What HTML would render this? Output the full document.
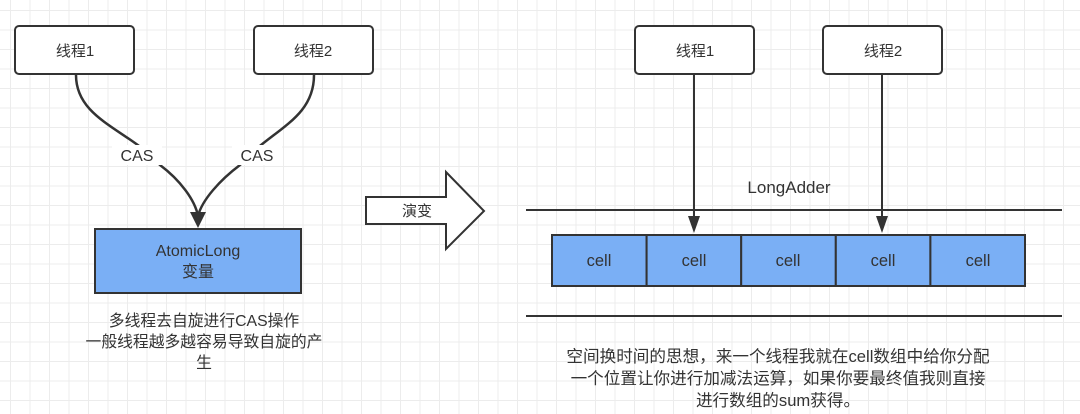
<!DOCTYPE html>
<html><head><meta charset="utf-8"><style>
body{margin:0;width:1080px;height:414px;overflow:hidden;background:#fff;
background-image:linear-gradient(#ececec 1px,transparent 1px),linear-gradient(90deg,#ececec 1px,transparent 1px);
background-size:19.5px 19.5px;background-position:10px 10px;font-family:"Liberation Sans","Noto Sans CJK SC",sans-serif;}
svg{position:absolute;left:0;top:0}
</style></head><body>
<svg width="1080" height="414" font-family="Liberation Sans, Noto Sans CJK SC, sans-serif" font-size="15" fill="#333">
<g stroke="#333" stroke-width="2" fill="#fff">
<rect x="15" y="26" width="119" height="48" rx="4"/>
<rect x="254" y="26" width="119" height="48" rx="4"/>
<rect x="635" y="26" width="119" height="48" rx="4"/>
<rect x="823" y="26" width="119" height="48" rx="4"/>
</g>
<g fill="none" stroke="#333" stroke-width="2.5">
<path d="M76,75 C76,120 130,130 160,165 C180,180 195,200 198,216"/>
<path d="M314,75 C314,120 270,130 240,165 C220,180 202,200 198,216"/>
</g>
<path d="M190,212 L206,212 L198,228 z" fill="#333"/>
<rect x="112" y="145" width="50" height="20" fill="#fff"/>
<rect x="232" y="145" width="50" height="20" fill="#fff"/>
<text x="137" y="161" text-anchor="middle" font-size="16">CAS</text>
<text x="257" y="161" text-anchor="middle" font-size="16">CAS</text>
<rect x="95" y="229" width="206" height="64" fill="#7aaff5" stroke="#333" stroke-width="2"/>
<text x="198" y="256" text-anchor="middle" font-size="16">AtomicLong</text>
<text x="198" y="277" text-anchor="middle" font-size="16">变量</text>
<text x="75" y="56" text-anchor="middle">线程1</text>
<text x="313" y="56" text-anchor="middle">线程2</text>
<text x="695" y="56" text-anchor="middle">线程1</text>
<text x="883" y="56" text-anchor="middle">线程2</text>
<path d="M366,197 L446,197 L446,172 L484,211 L446,249 L446,224 L366,224 z" fill="#fff" stroke="#333" stroke-width="2"/>
<text x="432" y="216" text-anchor="end">演变</text>
<g stroke="#333" stroke-width="2">
<line x1="526" y1="210" x2="1062" y2="210"/>
<line x1="526" y1="316" x2="1062" y2="316"/>
<line x1="694" y1="75" x2="694" y2="220"/>
<line x1="882" y1="75" x2="882" y2="220"/>
</g>
<path d="M688,216 L700,216 L694,233 z M876,216 L888,216 L882,233 z" fill="#333"/>
<text x="789" y="193" text-anchor="middle" font-size="17">LongAdder</text>
<g fill="#7aaff5" stroke="#333" stroke-width="2">
<rect x="552" y="235" width="94.6" height="51"/>
<rect x="646.6" y="235" width="94.6" height="51"/>
<rect x="741.2" y="235" width="94.6" height="51"/>
<rect x="835.8" y="235" width="94.6" height="51"/>
<rect x="930.4" y="235" width="94.6" height="51"/>
</g>
<g text-anchor="middle" font-size="16.5">
<text x="599" y="266">cell</text><text x="694" y="266">cell</text><text x="788" y="266">cell</text><text x="883" y="266">cell</text><text x="978" y="266">cell</text>
</g>
<g text-anchor="middle" font-size="15.8">
<text x="204" y="326">多线程去自旋进行CAS操作</text>
<text x="204" y="347">一般线程越多越容易导致自旋的产</text>
<text x="204" y="368">生</text>
</g>
<g text-anchor="middle" font-size="16.6">
<text x="778" y="362">空间换时间的思想，来一个线程我就在cell数组中给你分配</text>
<text x="778" y="384">一个位置让你进行加减法运算，如果你要最终值我则直接</text>
<text x="778" y="406">进行数组的sum获得。</text>
</g>
</svg>
</body></html>
